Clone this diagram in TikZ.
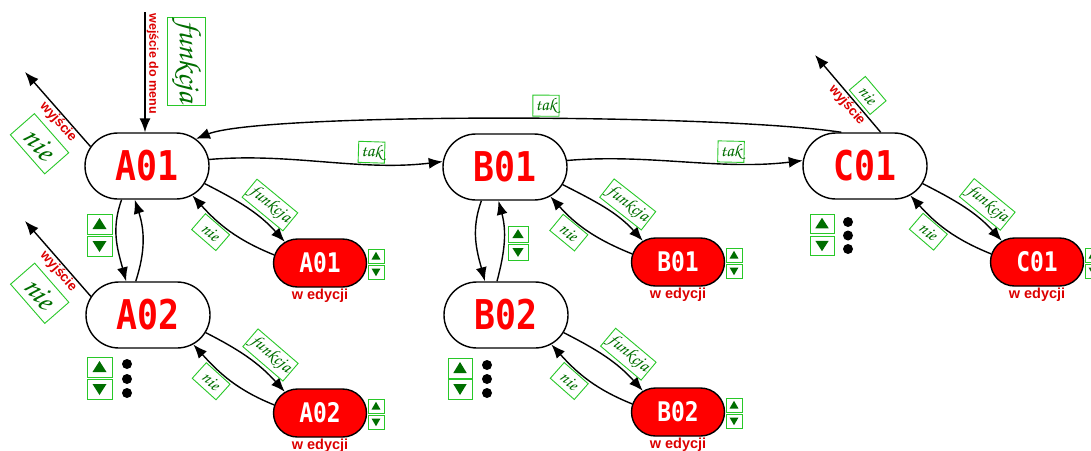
\documentclass[tikz,border=0pt]{standalone}
\usepackage[T1]{fontenc}
\usepackage{fontspec}
\setsansfont{Liberation Sans}
\newfontfamily\segfont[FakeStretch=0.85]{DejaVu Sans Mono}
\usetikzlibrary{shapes.misc,arrows.meta,calc}
\newcommand\chanc{\fontencoding{T1}\fontfamily{pzc}\fontseries{mb}\fontshape{it}\selectfont}
\definecolor{lgreen}{RGB}{40,200,40}
\definecolor{dgreen}{RGB}{0,110,0}
\definecolor{segred}{RGB}{255,0,0}
\definecolor{txtred}{RGB}{220,0,0}
\newcommand\btnpair[6]{%
  \node[btn, minimum width=#5pt, minimum height=#6pt] (#1u) at (#2,#3) {};
  \node[btn, minimum width=#5pt, minimum height=#6pt] (#1d) at (#2,#4) {};
  \fill[dgreen] ([shift={(-0.28*#5,-0.25*#6)}]#1u.center) -- ([shift={(0.28*#5,-0.25*#6)}]#1u.center) -- ([shift={(0,0.3*#6)}]#1u.center) -- cycle;
  \fill[dgreen] ([shift={(-0.28*#5,0.25*#6)}]#1d.center) -- ([shift={(0.28*#5,0.25*#6)}]#1d.center) -- ([shift={(0,-0.3*#6)}]#1d.center) -- cycle;
}
\begin{document}
\begin{tikzpicture}[x=1pt,y=1pt,
  disp/.style={rounded rectangle, draw=black, line width=1.4pt, fill=white, minimum width=124pt, minimum height=66pt, inner sep=0pt, text=segred, font=\segfont\bfseries\fontsize{41}{41}\selectfont},
  editbox/.style={rounded rectangle, draw=black, line width=1.4pt, fill=segred, minimum width=93pt, minimum height=48pt, inner sep=0pt, text=white, font=\segfont\bfseries\fontsize{27}{27}\selectfont},
  wed/.style={text=txtred, font=\sffamily\bfseries\fontsize{14.5}{14.5}\selectfont, inner sep=0pt},
  lab/.style={draw=lgreen, line width=0.9pt, fill=white, text=dgreen, font=\chanc\fontsize{18}{18}\selectfont, inner sep=2.5pt, minimum height=18pt, sloped},
  nielab/.style={lab, minimum width=32pt, minimum height=21pt},
  biglab/.style={lab, font=\chanc\fontsize{31}{31}\selectfont, inner sep=3pt},
  bignie/.style={biglab, minimum width=52pt, minimum height=32pt},
  redlab/.style={text=txtred, font=\sffamily\bfseries\fontsize{13.5}{13.5}\selectfont, inner sep=1pt, sloped},
  conn/.style={line width=1.4pt, -{Latex[length=14pt,width=11pt]}},
  btn/.style={draw=lgreen, line width=1pt, fill=white, inner sep=0pt, rectangle},
  dot/.style={circle, fill=black, minimum size=10pt, inner sep=0pt}
]
\useasboundingbox (0,0) rectangle (1091,-450);
% main displays
\node[disp] (A01) at (147,-166) {A01};
\node[disp] (A02) at (148,-315) {A02};
\node[disp] (B01) at (505,-167) {B01};
\node[disp] (B02) at (506,-315) {B02};
\node[disp] (C01) at (865,-166) {C01};
% edit displays
\node[editbox] (A01e) at (320,-263) {A01};
\node[editbox] (A02e) at (320,-413) {A02};
\node[editbox] (B01e) at (678,-262) {B01};
\node[editbox] (B02e) at (678,-412) {B02};
\node[editbox] (C01e) at (1037,-262) {C01};
\foreach \n in {A01e,A02e,B01e,B02e,C01e}
  \node[wed, anchor=north] (\n-w) at ([yshift=-1.5pt]\n.south) {w edycji};
% buttons
\btnpair{bA}{99.5}{-224}{-246}{25}{20}
\btnpair{bAA}{99.5}{-367}{-389}{25}{20}
\btnpair{bB}{518}{-234}{-252}{20}{16}
\btnpair{bBB}{460}{-368}{-389}{24}{20}
\btnpair{bC}{822}{-223.5}{-245.5}{24}{19}
\btnpair{eA}{376}{-256}{-272}{16}{14}
\btnpair{eAA}{376}{-406}{-422}{16}{14}
\btnpair{eB}{734}{-255}{-271}{16}{14}
\btnpair{eBB}{734}{-405}{-421}{16}{14}
\btnpair{eC}{1093}{-255}{-271}{16}{14}
% dots
\node[dot] (dA1) at (127,-364) {};
\node[dot] (dA2) at (127,-379) {};
\node[dot] (dA3) at (127,-393) {};
\node[dot] (dB1) at (487,-365) {};
\node[dot] (dB2) at (487,-379) {};
\node[dot] (dB3) at (487,-393) {};
\node[dot] (dC1) at (848,-222) {};
\node[dot] (dC2) at (848,-235.5) {};
\node[dot] (dC3) at (848,-249) {};
% tak connectors
\draw[conn] (A01.6) .. controls +(82,7) and +(-83,-10) .. (B01.175) node[lab, above=1pt, pos=0.7]{tak};
\draw[conn] (B01.6) .. controls +(82,7) and +(-83,-10) .. (C01.175) node[lab, above=1pt, pos=0.7]{tak};
\draw[conn] (C01.125) .. controls +(-125,19) and +(65,26) .. (A01.29) node[lab, above=2pt, pos=0.44]{tak};
% vertical pairs
\draw[conn] (A01.233) to[out=250,in=105] (A02.123);
\draw[conn] (A02.110) to[out=72,in=288] (A01.250);
\draw[conn] (B01.235) to[out=250,in=105] (B02.122);
\draw[conn] (B02.105) to[out=75,in=285] (B01.259);
% funkcja / nie pairs
\foreach \X in {A01,A02,B01,B02,C01}{
  \draw[conn] (\X.-17) to[out=-27,in=132] node[lab, above=4pt, pos=0.66]{funkcja} (\X e.149);
  \draw[conn] (\X e.170) to[out=158,in=-48] node[nielab, below=2pt, pos=0.64]{nie} (\X.-33);
}
% exits
\coordinate (A01x) at (25,-72);
\draw[conn] (A01.161) -- (A01x) node[redlab, below, pos=0.4]{wyjście} node[bignie, below=20pt, pos=0.36]{nie};
\coordinate (A02x) at (25,-221);
\draw[conn] (A02.162) -- (A02x) node[redlab, below, pos=0.4]{wyjście} node[bignie, below=20pt, pos=0.36]{nie};
\coordinate (C01x) at (815,-55);
\draw[conn] (C01.65) -- (C01x) node[redlab, below, pos=0.42]{wyjście} node[nielab, above=3pt, pos=0.36]{nie};
% entry
\coordinate (In) at (145,-12);
\draw[conn] (In) -- (In |- A01.north) node[redlab, above, pos=0.43, font=\sffamily\bfseries\fontsize{12.5}{12.5}\selectfont]{wejście do menu} node[biglab, above=22pt, pos=0.41]{funkcja};
\end{tikzpicture}
\end{document}
